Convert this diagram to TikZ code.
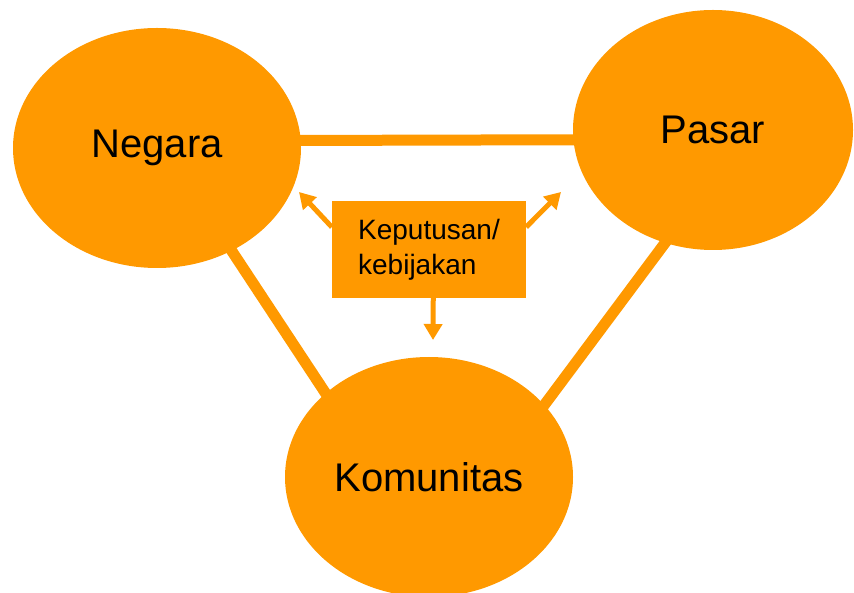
\documentclass[tikz,border=0pt]{standalone}
\usepackage{fontspec}
\setmainfont{Liberation Sans}
\usetikzlibrary{shapes.geometric, arrows.meta}
\definecolor{orng}{RGB}{255,153,0}

\begin{document}
\begin{tikzpicture}[x=1pt, y=1pt,
    actor/.style={ellipse, fill=orng, inner sep=0pt, minimum width=288pt, minimum height=240pt, font=\fontsize{40}{48}\selectfont},
    link/.style={draw=orng, line width=11pt, shorten <=-6pt, shorten >=-6pt},
    pointer/.style={draw=orng, line width=5pt, -{Triangle[width=18pt, length=16pt]}}]
  \useasboundingbox (0, 0) rectangle (854, 592);

  % Ellipses
  \node[actor] (negara) at (157, 444) {Negara};
  \node[actor, minimum width=280pt] (pasar) at (713, 462) {Pasar};
  \node[actor] (komunitas) at (429, 115) {Komunitas};

  % Decision box
  \node[rectangle, fill=orng, minimum width=194pt, minimum height=97pt, align=left,
        font=\fontsize{28}{35}\selectfont] (box) at (429, 342.5) {Keputusan/\\kebijakan};

  % Arrow ends
  \coordinate (tipN) at (299, 400);
  \coordinate (tipP) at (561, 400);
  \coordinate (tipK) at (433, 252);

  % Links between ellipses
  \draw[link] (negara.3) -- (pasar.184.5);
  \draw[link] (negara.-54) -- (komunitas.141);
  \draw[link] (pasar.-113) -- (komunitas.32);

  % Arrows from the box
  \draw[pointer] (box.167) -- (tipN);
  \draw[pointer] (box.13) -- (tipP);
  \draw[pointer] (box.-85) -- (tipK);

\end{tikzpicture}
\end{document}
